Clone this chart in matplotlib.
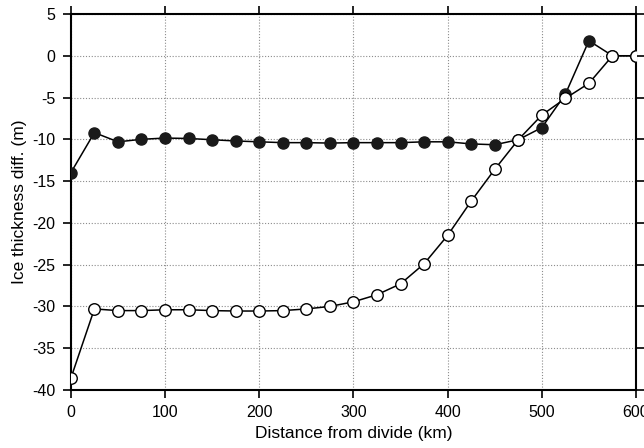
import numpy as np
import matplotlib
matplotlib.use("Agg")
import matplotlib.pyplot as plt

# distance from divide (km), one point every 25 km
distance = list(range(0, 625, 25))

# filled circles
diff_filled = [-14.0, -9.2, -10.3, -10.0, -9.85, -9.9, -10.05, -10.2, -10.3, -10.4,
               -10.4, -10.45, -10.4, -10.4, -10.4, -10.3, -10.3, -10.55, -10.65, -10.05,
               -8.6, -4.6, 1.8, 0.0, 0.0]

# open circles
diff_open = [-38.6, -30.3, -30.5, -30.5, -30.4, -30.4, -30.5, -30.55, -30.55, -30.5,
             -30.3, -30.0, -29.45, -28.6, -27.3, -24.9, -21.5, -17.4, -13.6, -10.05,
             -7.1, -5.1, -3.3, 0.0, 0.0]

plt.rcParams['font.family'] = ['Liberation Sans', 'DejaVu Sans']
plt.rcParams['axes.unicode_minus'] = False

fig = plt.figure(figsize=(6.44, 4.48), dpi=100)
ax = fig.add_axes([0.110, 0.1295, 0.8776, 0.8393])

ax.plot(distance, diff_filled, color='black', linewidth=1.1, marker='o',
        markersize=8, markerfacecolor='#1a1a1a', markeredgecolor='#1a1a1a',
        zorder=3, clip_on=True)
ax.plot(distance, diff_open, color='black', linewidth=1.1, marker='o',
        markersize=8.3, markerfacecolor='white', markeredgecolor='black',
        markeredgewidth=1.0, zorder=4, clip_on=True)

ax.set_xlim(0, 600)
ax.set_ylim(-40, 5)
ax.set_xticks(np.arange(0, 601, 100))
ax.set_yticks(np.arange(-40, 6, 5))

# dotted grey grid
ax.grid(True, linestyle=(0, (1, 1.6)), color='#8c8c8c', linewidth=0.8)
ax.set_axisbelow(True)

ax.tick_params(direction='out', length=6, width=1.2, labelsize=11.5,
               top=True, right=True, pad=5)
for s in ax.spines.values():
    s.set_linewidth(1.5)

ax.set_xlabel('Distance from divide (km)', fontsize=12.5, labelpad=4)
ax.set_ylabel('Ice thickness diff. (m)', fontsize=12.5, labelpad=4)

fig.savefig('out.png', dpi=100)
